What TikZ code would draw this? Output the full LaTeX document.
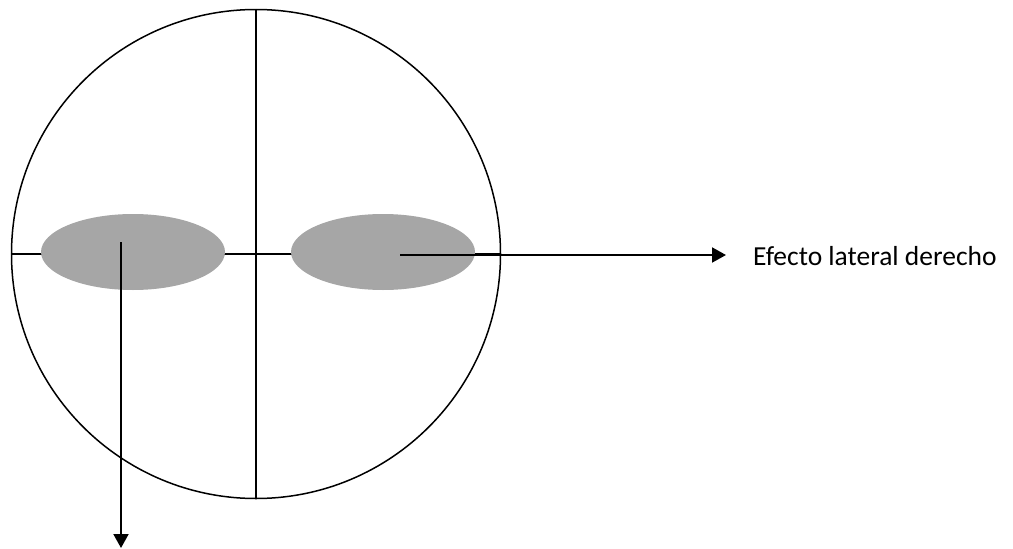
\documentclass[tikz,border=0pt]{standalone}
\usepackage{fontspec}
\setmainfont{Carlito}
\usetikzlibrary{arrows.meta,shapes.geometric}
\definecolor{blobgray}{HTML}{A6A6A6}
\tikzset{
  thinline/.style={line width=1.5pt, black},
  blob/.style={ellipse, fill=blobgray, draw=none, minimum width=184pt, minimum height=76pt, inner sep=0pt},
  arrowline/.style={line width=2pt, -{Triangle[length=14pt,width=15pt]}},
  label/.style={font=\fontsize{27.5}{33}\selectfont, anchor=base west, inner sep=0pt}
}
\begin{document}
\begin{tikzpicture}[x=1pt,y=-1pt]
\useasboundingbox (0,0) rectangle (1013,549);
\node[circle, draw, thinline, minimum size=489pt, inner sep=0pt] (disc) at (256,254) {};
\draw[thinline] (disc.north) -- (disc.south);
\draw[thinline] (disc.west) -- (disc.east);
\node[blob] (leftspot) at (133,252) {};
\node[blob] (rightspot) at (383,252) {};
\coordinate (lstart) at (121,242);
\coordinate (lend) at (121,548);
\coordinate (rstart) at (400,255);
\coordinate (rend) at (726,255);
\draw[arrowline] (lstart) -- (lend);
\draw[arrowline] (rstart) -- (rend);
\node[label] (txt) at (753,265) {Efecto lateral derecho};
\end{tikzpicture}
\end{document}
